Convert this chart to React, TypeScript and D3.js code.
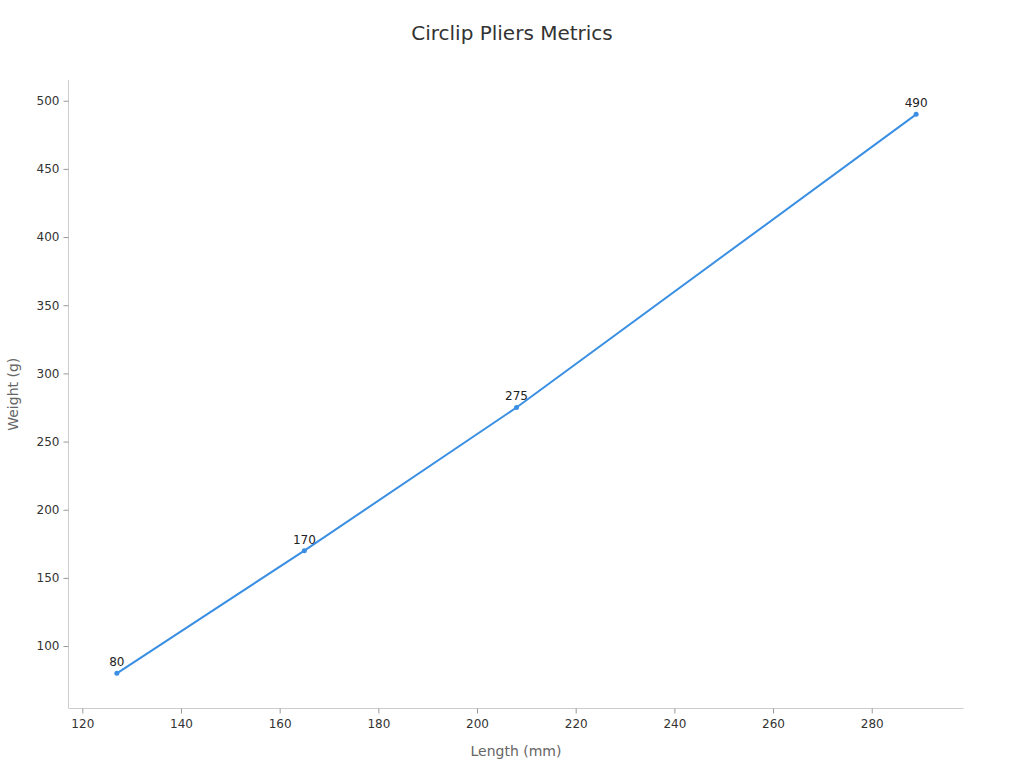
import React, { useEffect, useRef } from "react";
import * as d3 from "d3";

const title = "Circlip Pliers Metrics";
const xLabel = "Length (mm)";
const yLabel = "Weight (g)";
const lengths = [127, 165, 208, 289];
const weights = [80, 170, 275, 490];
const xTicks = [120, 140, 160, 180, 200, 220, 240, 260, 280];
const yTicks = [100, 150, 200, 250, 300, 350, 400, 450, 500];

const W = 1024;
const H = 768;
const M = { left: 68.5, right: 963.5, top: 80, bottom: 708.5 };
const FONT = "'DejaVu Sans', sans-serif";
const LINE = "#3a8fe3";

export default function App() {
  const ref = useRef<SVGSVGElement>(null);
  useEffect(() => {
    const svg = d3.select(ref.current);
    svg.selectAll("*").remove();
    const x = d3.scaleLinear().domain([117.2, 298.6]).range([M.left, M.right]);
    const y = d3.scaleLinear().domain([54.2, 515.2]).range([M.bottom, M.top]);
    const data = lengths.map((l, i) => ({ x: l, y: weights[i] }));

    svg
      .append("text")
      .attr("x", W / 2)
      .attr("y", 40)
      .attr("text-anchor", "middle")
      .attr("font-family", FONT)
      .attr("font-size", 20)
      .attr("fill", "#333")
      .text(title);

    const xa = svg
      .append("g")
      .attr("transform", `translate(0,${M.bottom})`)
      .call(d3.axisBottom(x).tickValues(xTicks).tickSize(5).tickPadding(6).tickFormat(d3.format("d")));
    xa.select(".domain").attr("stroke", "#ccc").attr("d", `M${M.left},0H${M.right}`);
    xa.selectAll(".tick line").attr("stroke", "#999");
    xa.selectAll(".tick text").attr("font-family", FONT).attr("font-size", 12).attr("fill", "#333");

    const ya = svg
      .append("g")
      .attr("transform", `translate(${M.left},0)`)
      .call(d3.axisLeft(y).tickValues(yTicks).tickSize(5).tickPadding(4).tickFormat(d3.format("d")));
    ya.select(".domain").attr("stroke", "#ccc").attr("d", `M0,${M.top}V${M.bottom}`);
    ya.selectAll(".tick line").attr("stroke", "#999");
    ya.selectAll(".tick text").attr("font-family", FONT).attr("font-size", 12).attr("fill", "#333");

    svg
      .append("text")
      .attr("x", (M.left + M.right) / 2)
      .attr("y", 756)
      .attr("text-anchor", "middle")
      .attr("font-family", FONT)
      .attr("font-size", 14)
      .attr("fill", "#666")
      .text(xLabel);

    svg
      .append("text")
      .attr("transform", `translate(18,${(M.top + M.bottom) / 2}) rotate(-90)`)
      .attr("text-anchor", "middle")
      .attr("font-family", FONT)
      .attr("font-size", 14)
      .attr("fill", "#666")
      .text(yLabel);

    const line = d3
      .line<{ x: number; y: number }>()
      .x((d) => x(d.x))
      .y((d) => y(d.y));
    svg
      .append("path")
      .datum(data)
      .attr("d", line)
      .attr("fill", "none")
      .attr("stroke", LINE)
      .attr("stroke-width", 2);

    svg
      .selectAll("circle.pt")
      .data(data)
      .enter()
      .append("circle")
      .attr("cx", (d) => x(d.x))
      .attr("cy", (d) => y(d.y))
      .attr("r", 2.5)
      .attr("fill", LINE);

    svg
      .selectAll("text.lbl")
      .data(data)
      .enter()
      .append("text")
      .attr("x", (d) => x(d.x))
      .attr("y", (d) => y(d.y) - 7)
      .attr("text-anchor", "middle")
      .attr("font-family", FONT)
      .attr("font-size", 12)
      .attr("fill", "#222")
      .text((d) => String(d.y));
  }, []);

  return (
    <svg
      ref={ref}
      width={W}
      height={H}
      style={{ position: "absolute", left: 0, top: 0, background: "#fff" }}
    />
  );
}
